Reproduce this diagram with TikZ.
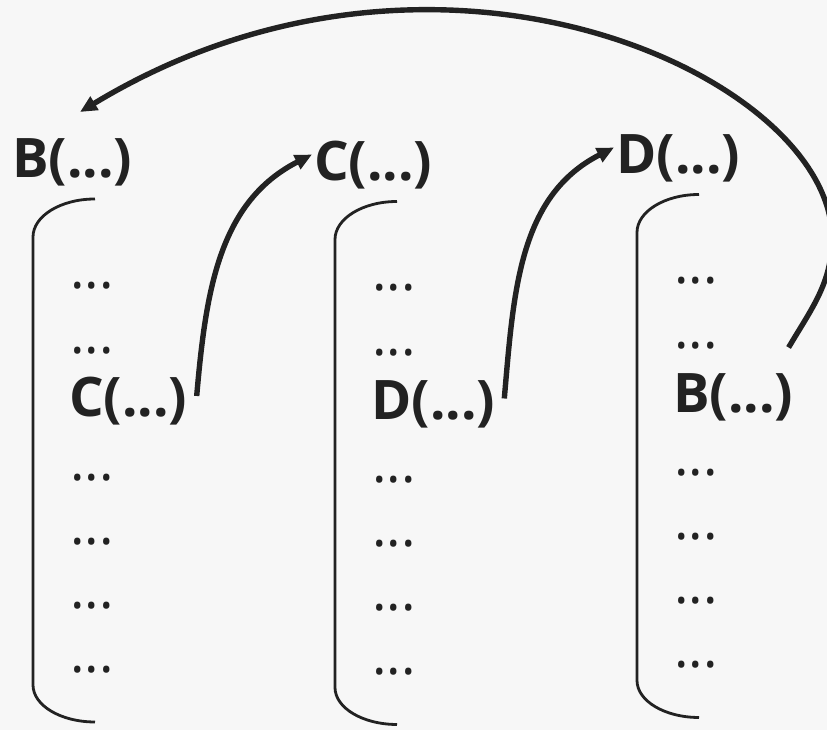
\documentclass[tikz,border=0pt]{standalone}
\usepackage{fontspec}
\setmainfont{Open Sans}
\usetikzlibrary{arrows.meta}
\definecolor{ink}{HTML}{222222}
\definecolor{paper}{HTML}{F7F7F7}
\tikzset{
  head/.style={anchor=base west, inner sep=0pt, font=\fontsize{54.5}{60}\selectfont\bfseries, text=ink},
  item/.style={anchor=base west, inner sep=0pt, font=\fontsize{54.5}{60}\selectfont, text=ink},
  frame/.style={draw=ink, line width=2.8pt},
  call/.style={draw=ink, line width=5.4pt, -{Triangle[length=17pt,width=15pt]}},
}
\begin{document}
\begin{tikzpicture}[x=1pt,y=1pt]
    \fill[paper] (0,0) rectangle (827,730);
    \useasboundingbox (0,0) rectangle (827,730);
    \clip (0,0) rectangle (827,730);
    \foreach \dx/\dy/\h/\c in {0/0/B/C, 302/-2.5/C/D, 604/4.5/D/B}{
      \begin{scope}[shift={(\dx,\dy)}]
        \node[head] (head\h) at (12,552) {\h(...)};
        \draw[frame] (95,531) arc(90:180:62 and 38) -- (33,45) arc(180:270:62 and 37);
        \foreach \y in {441.5,376.5,249.5,185.5,121.5,57.5}
          \node[item] at (70,\y) {...};
        \node[head] (call\c) at (69,313) {\c(...)};
      \end{scope}
    }
    \draw[call] ([xshift=9pt,yshift=21pt]callC.base east) to[out=85,in=207] ([xshift=-2pt,yshift=26pt]headC.base west);
    \draw[call] ([xshift=9pt,yshift=21pt]callD.base east) to[out=85,in=207] ([xshift=-2pt,yshift=26pt]headD.base west);
%    the long one goes round the right edge
    \draw[call] ([xshift=-5pt,yshift=65pt]callB.base east) .. controls +(23,39) and (832,447) .. (832,492)
      .. controls (832,652) and (440,836) .. ([xshift=68pt,yshift=66pt]headB.base west);
\end{tikzpicture}
\end{document}
